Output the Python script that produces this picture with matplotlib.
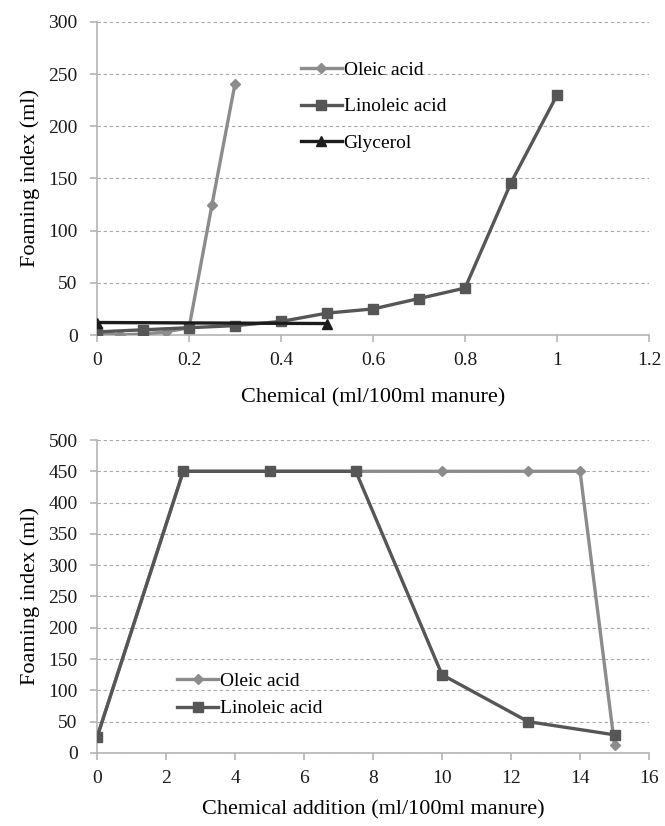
import matplotlib
matplotlib.use("Agg")
import matplotlib.pyplot as plt

# top panel: foaming index vs chemical dose
oleic_x_top = [0, 0.05, 0.1, 0.15, 0.2, 0.25, 0.3]
oleic_y_top = [2, 0, 1, 3, 7, 125, 241]
linoleic_x_top = [0, 0.1, 0.2, 0.3, 0.4, 0.5, 0.6, 0.7, 0.8, 0.9, 1.0]
linoleic_y_top = [3, 5, 7, 9, 13, 21, 25, 35, 45, 146, 230]
glycerol_x_top = [0, 0.5]
glycerol_y_top = [12, 11]

# bottom panel: foaming index vs chemical addition
oleic_x_bot = [0, 2.5, 5, 7.5, 10, 12.5, 14, 15]
oleic_y_bot = [25, 450, 450, 450, 450, 450, 450, 13]
linoleic_x_bot = [0, 2.5, 5, 7.5, 10, 12.5, 15]
linoleic_y_bot = [25, 450, 450, 450, 125, 50, 29]

OLEIC_C = "#8c8c8c"
LINOLEIC_C = "#565656"
GLYCEROL_C = "#1c1c1c"
AXIS_C = "#b4b4b4"
GRID_C = "#a8a8a8"

plt.rcParams["font.family"] = ["Liberation Serif", "DejaVu Serif"]
plt.rcParams["font.size"] = 12

fig = plt.figure(figsize=(6.65, 8.26), dpi=100)
ax_top = fig.add_axes([0.1459, 0.5944, 0.976 - 0.1459, 0.9734 - 0.5944])
ax_bot = fig.add_axes([0.1459, 0.0884, 0.976 - 0.1459, 0.4673 - 0.0884])


def style(ax):
    for side in ("top", "right"):
        ax.spines[side].set_visible(False)
    for side in ("left", "bottom"):
        ax.spines[side].set_color(AXIS_C)
        ax.spines[side].set_linewidth(1.2)
    ax.grid(True, axis="y", color=GRID_C, lw=0.8, ls=(0, (3, 2.5)))
    ax.set_axisbelow(True)
    ax.tick_params(axis="both", colors=AXIS_C, labelcolor="#1a1a1a",
                   labelsize=14, width=1.2, length=5)
    ax.tick_params(axis="x", pad=7)
    ax.tick_params(axis="y", pad=9)


lw = 2.4
ax_top.plot(oleic_x_top, oleic_y_top, color=OLEIC_C, lw=lw, marker="D", ms=5,
            label="Oleic acid", zorder=3)
ax_top.plot(linoleic_x_top, linoleic_y_top, color=LINOLEIC_C, lw=lw, marker="s", ms=7,
            label="Linoleic acid", zorder=4)
ax_top.plot(glycerol_x_top, glycerol_y_top, color=GLYCEROL_C, lw=lw, marker="^", ms=6.5,
            label="Glycerol", zorder=5)
style(ax_top)
ax_top.set_xlim(0, 1.2)
ax_top.set_ylim(0, 300)
ax_top.set_xticks([0, 0.2, 0.4, 0.6, 0.8, 1.0, 1.2])
ax_top.set_xticklabels(["0", "0.2", "0.4", "0.6", "0.8", "1", "1.2"])
ax_top.set_yticks(range(0, 301, 50))
ax_top.set_xlabel("Chemical (ml/100ml manure)", fontsize=16, labelpad=14)
ax_top.set_ylabel("Foaming index (ml)", fontsize=16, labelpad=6)
ax_top.legend(loc="upper left", bbox_to_anchor=(0.355, 0.899), frameon=False,
              handlelength=2.1, handletextpad=0.1, labelspacing=0.97,
              borderaxespad=0, fontsize=14)

ax_bot.plot(oleic_x_bot, oleic_y_bot, color=OLEIC_C, lw=lw, marker="D", ms=5,
            label="Oleic acid", zorder=3)
ax_bot.plot(linoleic_x_bot, linoleic_y_bot, color=LINOLEIC_C, lw=lw, marker="s", ms=7,
            label="Linoleic acid", zorder=4)
style(ax_bot)
ax_bot.set_xlim(0, 16)
ax_bot.set_ylim(0, 500)
ax_bot.set_xticks(range(0, 17, 2))
ax_bot.set_yticks(range(0, 501, 50))
ax_bot.set_xlabel("Chemical addition (ml/100ml manure)", fontsize=16, labelpad=10)
ax_bot.set_ylabel("Foaming index (ml)", fontsize=16, labelpad=6)
ax_bot.legend(loc="upper left", bbox_to_anchor=(0.131, 0.282), frameon=False,
              handlelength=2.1, handletextpad=0.1, labelspacing=0.5,
              borderaxespad=0, fontsize=14)

fig.savefig("out.png", dpi=100)
